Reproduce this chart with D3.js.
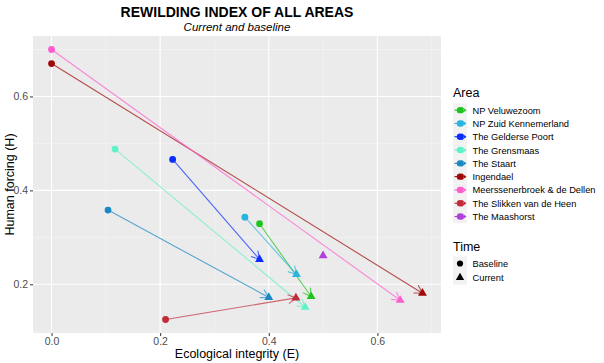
<!DOCTYPE html>
<html>
<head>
<meta charset="utf-8">
<script src="https://cdn.jsdelivr.net/npm/d3@7"></script>
<style>
  body { margin: 0; background: #fff; }
  svg { display: block; font-family: "Liberation Sans", Arial, sans-serif; }
</style>
</head>
<body>
<svg id="chart" width="604" height="363"></svg>
<script>
// areas in legend order
const areas = ["NP Veluwezoom", "NP Zuid Kennemerland", "The Gelderse Poort", "The Grensmaas",
    "The Staart", "Ingendael", "Meerssenerbroek & de Dellen", "The Slikken van de Heen", "The Maashorst"];
const areaColors = ["#1ec41e", "#27b4e0", "#0a2cff", "#5ff2c8", "#1a88c2", "#a00808", "#ff5ccf", "#c22c38", "#b03fdc"];

// baseline (circle) and current (triangle) values, null = no baseline
const baseE = [0.383, 0.356, 0.223, 0.117, 0.104, 0.000, 0.000, 0.210, null];
const baseH = [0.329, 0.343, 0.466, 0.488, 0.358, 0.670, 0.700, 0.125, null];
const curE = [0.478, 0.451, 0.383, 0.467, 0.400, 0.683, 0.642, 0.450, 0.500];
const curH = [0.174, 0.221, 0.253, 0.151, 0.172, 0.181, 0.166, 0.171, 0.261];

const xTicks = [0, 0.2, 0.4, 0.6];
const yTicks = [0.2, 0.4, 0.6];
const timeLabels = ["Baseline", "Current"];

const svg = d3.select("#chart");
const panel = {left: 33, right: 441, top: 36, bottom: 333};

function expand(ext) {
    let pad = (ext[1] - ext[0]) * 0.05;
    return [ext[0] - pad, ext[1] + pad];
}
const allE = baseE.concat(curE).filter(v => v != null);
const allH = baseH.concat(curH).filter(v => v != null);

const x = d3.scaleLinear().domain(expand(d3.extent(allE))).range([panel.left, panel.right]);
const y = d3.scaleLinear().domain(expand(d3.extent(allH))).range([panel.bottom, panel.top]);

// panel
svg.append("rect")
    .attr("x", panel.left).attr("y", panel.top)
    .attr("width", panel.right - panel.left).attr("height", panel.bottom - panel.top)
    .attr("fill", "#ebebeb");

const xMinor = [0.1, 0.3, 0.5, 0.7].filter(v => v > x.domain()[0] && v < x.domain()[1]);
const yMinor = [0.1, 0.3, 0.5, 0.7].filter(v => v > y.domain()[0] && v < y.domain()[1]);
const grid = svg.append("g");
grid.selectAll(".xm").data(xMinor).join("line")
    .attr("x1", d => x(d)).attr("x2", d => x(d))
    .attr("y1", panel.top).attr("y2", panel.bottom)
    .attr("stroke", "#f5f5f5").attr("stroke-width", 0.6);
grid.selectAll(".ym").data(yMinor).join("line")
    .attr("y1", d => y(d)).attr("y2", d => y(d))
    .attr("x1", panel.left).attr("x2", panel.right)
    .attr("stroke", "#f5f5f5").attr("stroke-width", 0.6);
grid.selectAll(".xM").data(xTicks).join("line")
    .attr("x1", d => x(d)).attr("x2", d => x(d))
    .attr("y1", panel.top).attr("y2", panel.bottom)
    .attr("stroke", "#fff").attr("stroke-width", 1.1);
grid.selectAll(".yM").data(yTicks).join("line")
    .attr("y1", d => y(d)).attr("y2", d => y(d))
    .attr("x1", panel.left).attr("x2", panel.right)
    .attr("stroke", "#fff").attr("stroke-width", 1.1);

// axes
const fmt = d3.format(".1f");
const xAxis = svg.append("g")
    .attr("transform", `translate(0,${panel.bottom})`)
    .call(d3.axisBottom(x).tickValues(xTicks).tickFormat(fmt).tickSize(3).tickPadding(2));
const yAxis = svg.append("g")
    .attr("transform", `translate(${panel.left},0)`)
    .call(d3.axisLeft(y).tickValues(yTicks).tickFormat(fmt).tickSize(3).tickPadding(2));
[xAxis, yAxis].forEach(a => {
    a.select(".domain").remove();
    a.selectAll(".tick line").attr("stroke", "#333");
    a.selectAll(".tick text").attr("fill", "#4d4d4d")
        .style("font-size", "10.5px").style("font-family", "Liberation Sans, Arial, sans-serif");
});

// arrows
const rows = areas.map((a, i) => ({
    area: a, color: areaColors[i],
    be: baseE[i], bh: baseH[i], ce: curE[i], ch: curH[i]
}));
const withBase = rows.filter(d => d.be != null);

function arrowHead(x0, y0, x1, y1, len, ang) {
    let a = Math.atan2(y1 - y0, x1 - x0);
    let p1 = [x1 - len * Math.cos(a - ang), y1 - len * Math.sin(a - ang)];
    let p2 = [x1 - len * Math.cos(a + ang), y1 - len * Math.sin(a + ang)];
    return `M${p1}L${x1},${y1}L${p2}`;
}

const seg = svg.append("g");
seg.selectAll("line").data(withBase).join("line")
    .attr("x1", d => x(d.be)).attr("y1", d => y(d.bh))
    .attr("x2", d => x(d.ce)).attr("y2", d => y(d.ch))
    .attr("stroke", d => d.color).attr("stroke-opacity", 0.7).attr("stroke-width", 1.1);
seg.selectAll("path").data(withBase).join("path")
    .attr("d", d => arrowHead(x(d.be), y(d.bh), x(d.ce), y(d.ch), 9, Math.PI / 6))
    .attr("fill", "none")
    .attr("stroke", d => d.color).attr("stroke-opacity", 0.7).attr("stroke-width", 1.1);

// points
const tri = d3.symbol().type(d3.symbolTriangle).size(34);
svg.append("g").selectAll("circle").data(withBase).join("circle")
    .attr("cx", d => x(d.be)).attr("cy", d => y(d.bh)).attr("r", 3.4)
    .attr("fill", d => d.color);
svg.append("g").selectAll("path").data(rows).join("path")
    .attr("d", tri)
    .attr("transform", d => `translate(${x(d.ce)},${y(d.ch)})`)
    .attr("fill", d => d.color);

// titles
const cx = (panel.left + panel.right) / 2;
svg.append("text").attr("x", cx).attr("y", 17).attr("text-anchor", "middle")
    .style("font-size", "14px").style("font-weight", "bold").text("REWILDING INDEX OF ALL AREAS");
svg.append("text").attr("x", cx).attr("y", 31).attr("text-anchor", "middle")
    .style("font-size", "11.5px").style("font-style", "italic").text("Current and baseline");
svg.append("text").attr("x", cx).attr("y", 358).attr("text-anchor", "middle")
    .style("font-size", "12.5px").text("Ecological integrity (E)");
svg.append("text").attr("transform", `translate(14,${(panel.top + panel.bottom) / 2}) rotate(-90)`)
    .attr("text-anchor", "middle")
    .style("font-size", "12.5px").text("Human forcing (H)");

// legend: Area
const lg = svg.append("g").attr("transform", "translate(453,0)");
lg.append("text").attr("x", 0).attr("y", 96.5).style("font-size", "12.5px").text("Area");
const rowH = 13.3, top0 = 103.5;
const keys = lg.selectAll(".key").data(rows).join("g")
    .attr("transform", (d, i) => `translate(0,${top0 + i * rowH})`);
keys.append("rect").attr("width", 14).attr("height", rowH).attr("fill", "#f2f2f2");
keys.append("line").attr("x1", 1.5).attr("x2", 12.5).attr("y1", rowH / 2).attr("y2", rowH / 2)
    .attr("stroke", d => d.color).attr("stroke-width", 1.1);
keys.append("path").attr("d", d => arrowHead(1.5, rowH / 2, 12.5, rowH / 2, 5, Math.PI / 5))
    .attr("fill", "none").attr("stroke", d => d.color).attr("stroke-width", 1.1);
keys.append("circle").attr("cx", 7).attr("cy", rowH / 2).attr("r", 3.2).attr("fill", d => d.color);
keys.append("text").attr("x", 19.5).attr("y", rowH / 2 + 3.5)
    .style("font-size", "9.3px").text(d => d.area);

// legend: Time
lg.append("text").attr("x", 0).attr("y", 251).style("font-size", "12.5px").text("Time");
const tkeys = lg.selectAll(".tkey").data(timeLabels).join("g")
    .attr("transform", (d, i) => `translate(0,${256.5 + i * 14})`);
tkeys.append("rect").attr("width", 14).attr("height", 14).attr("fill", "#f2f2f2");
tkeys.append("path")
    .attr("d", (d, i) => d3.symbol().type(i === 0 ? d3.symbolCircle : d3.symbolTriangle).size(30)())
    .attr("transform", "translate(7,7)").attr("fill", "#000");
tkeys.append("text").attr("x", 19.5).attr("y", 7 + 3.5)
    .style("font-size", "9.3px").text(d => d);
</script>
</body>
</html>
